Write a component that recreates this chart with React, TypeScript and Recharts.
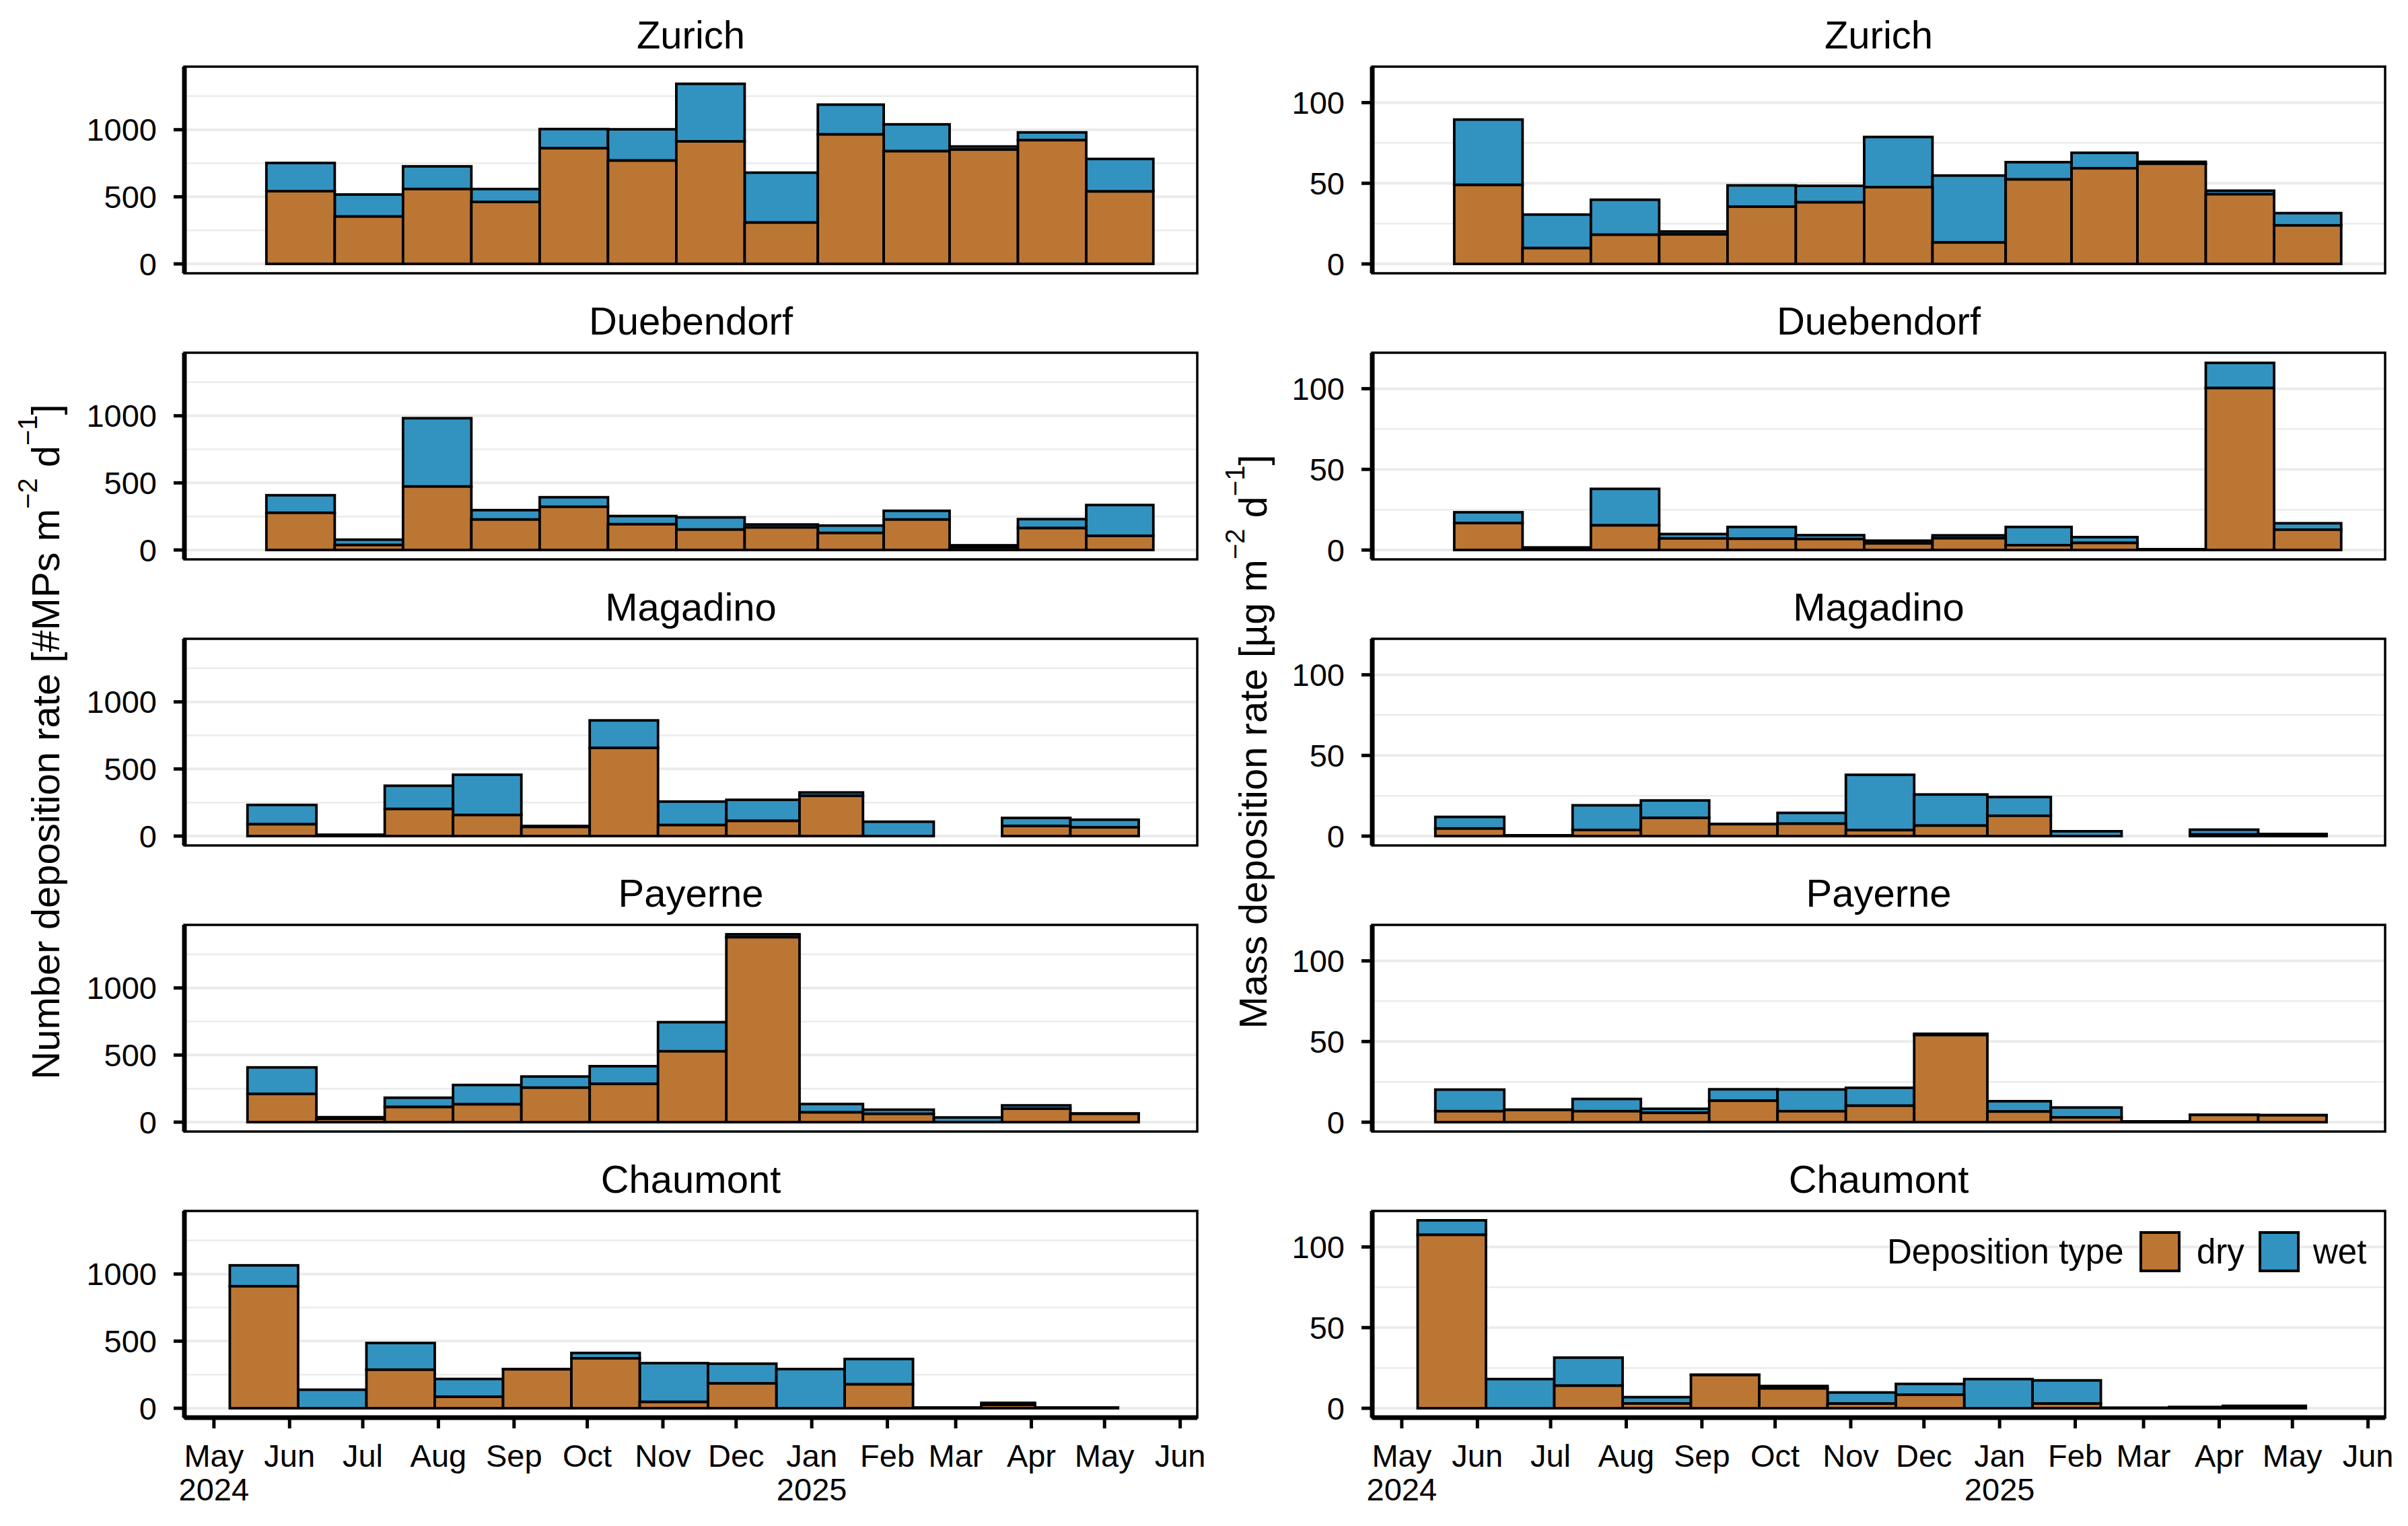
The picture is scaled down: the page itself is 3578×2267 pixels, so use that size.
import React from "react";
import { ComposedChart, XAxis, YAxis, CartesianGrid, ReferenceArea, Line } from "recharts";

const FONT = '"Liberation Sans", Arial, Helvetica, sans-serif';
const DRY_COLOR = "#BC7634";
const WET_COLOR = "#3393C0";
const GRID_COLOR = "#EBEBEB";

// ---------- data ----------
const sites = ["Zurich", "Duebendorf", "Magadino", "Payerne", "Chaumont"];

// sampling period boundaries (start of first .. end of last)
const periodsZurichDuebendorf = [
  "2024-05-22T12:00Z", "2024-06-19T12:00Z", "2024-07-17T12:00Z", "2024-08-14T12:00Z",
  "2024-09-11T12:00Z", "2024-10-09T12:00Z", "2024-11-06T12:00Z", "2024-12-04T12:00Z",
  "2025-01-03T12:00Z", "2025-01-30T12:00Z", "2025-02-26T12:00Z", "2025-03-26T12:00Z",
  "2025-04-23T12:00Z", "2025-05-21T00:00Z",
];
const periodsMagadinoPayerne = [
  "2024-05-14T18:00Z", "2024-06-12T00:00Z", "2024-07-10T00:00Z", "2024-08-07T00:00Z",
  "2024-09-04T00:00Z", "2024-10-02T00:00Z", "2024-10-30T00:00Z", "2024-11-27T00:00Z",
  "2024-12-27T00:00Z", "2025-01-22T00:00Z", "2025-02-20T00:00Z", "2025-03-20T00:00Z",
  "2025-04-17T00:00Z", "2025-05-15T00:00Z",
];
const periodsChaumont = [
  "2024-05-07T12:00Z", "2024-06-04T12:00Z", "2024-07-02T12:00Z", "2024-07-30T12:00Z",
  "2024-08-27T12:00Z", "2024-09-24T12:00Z", "2024-10-22T12:00Z", "2024-11-19T12:00Z",
  "2024-12-17T12:00Z", "2025-01-14T12:00Z", "2025-02-11T12:00Z", "2025-03-11T12:00Z",
  "2025-04-02T12:00Z", "2025-05-06T12:00Z",
];

// Number deposition rate [#MPs m-2 d-1]
const zurichNumberDry = [542, 353, 558, 462, 862, 770, 913, 308, 965, 840, 852, 922, 540];
const zurichNumberWet = [210, 164, 169, 96, 143, 233, 429, 372, 222, 200, 23, 58, 242];
const duebendorfNumberDry = [277, 37, 473, 227, 322, 192, 152, 168, 127, 227, 20, 163, 105];
const duebendorfNumberWet = [131, 40, 509, 70, 71, 61, 91, 22, 55, 65, 15, 67, 230];
const magadinoNumberDry = [88, 5, 202, 157, 68, 657, 82, 113, 300, 0, 0, 75, 65];
const magadinoNumberWet = [144, 5, 173, 300, 7, 205, 175, 157, 25, 107, 0, 60, 57];
const payerneNumberDry = [210, 25, 113, 133, 257, 285, 528, 1378, 73, 62, 0, 100, 62];
const payerneNumberWet = [198, 12, 69, 144, 83, 132, 217, 22, 62, 31, 35, 25, 3];
const chaumontNumberDry = [909, 0, 287, 85, 290, 372, 47, 185, 0, 178, 3, 25, 3];
const chaumontNumberWet = [156, 138, 199, 133, 2, 40, 289, 147, 292, 189, 2, 15, 2];

// Mass deposition rate [ug m-2 d-1]
const zurichMassDry = [49.0, 9.8, 18.1, 18.3, 35.5, 38.2, 47.6, 13.3, 52.4, 59.3, 62.1, 43.2, 23.9];
const zurichMassWet = [40.5, 20.8, 21.7, 1.8, 13.2, 10.2, 31.1, 41.5, 10.7, 9.6, 1.2, 2.2, 7.6];
const duebendorfMassDry = [16.7, 1.0, 15.3, 7.2, 7.0, 6.8, 4.1, 7.3, 3.0, 4.4, 0.3, 100.4, 12.6];
const duebendorfMassWet = [6.7, 0.6, 22.6, 2.7, 7.3, 2.4, 1.7, 1.8, 11.3, 3.6, 0.2, 15.6, 4.0];
const magadinoMassDry = [4.7, 0.3, 3.8, 11.3, 7.4, 7.7, 3.7, 6.5, 12.6, 0, 0, 1.0, 1.0];
const magadinoMassWet = [7.2, 0.2, 15.3, 10.8, 0.1, 6.7, 34.3, 19.3, 11.6, 3.0, 0, 3.0, 0.3];
const payerneMassDry = [6.8, 7.6, 6.8, 5.8, 13.3, 6.8, 10.2, 54.0, 6.6, 3.0, 0.3, 4.5, 4.3];
const payerneMassWet = [13.4, 0.2, 7.6, 2.5, 7.1, 13.5, 11.1, 0.8, 6.4, 6.1, 0.2, 0.1, 0.1];
const chaumontMassDry = [107.5, 0, 14.0, 3.0, 20.6, 12.3, 2.9, 8.4, 0, 2.9, 0.2, 0.5, 1.2];
const chaumontMassWet = [9.0, 18.1, 17.4, 3.9, 0.2, 1.5, 6.9, 6.7, 18.1, 14.4, 0.1, 0.3, 0.3];

// x-axis ticks
const monthTickDates = [
  "2024-05-01", "2024-06-01", "2024-07-01", "2024-08-01", "2024-09-01", "2024-10-01", "2024-11-01",
  "2024-12-01", "2025-01-01", "2025-02-01", "2025-03-01", "2025-04-01", "2025-05-01", "2025-06-01",
];
const monthTickLabels = ["May", "Jun", "Jul", "Aug", "Sep", "Oct", "Nov", "Dec", "Jan", "Feb", "Mar", "Apr", "May", "Jun"];
const yearTickLabels = ["2024", "", "", "", "", "", "", "", "2025", "", "", "", "", ""];

// y-axis ticks
const numberTicks = [0, 500, 1000];
const numberMinor = [250, 750, 1250];
const massTicks = [0, 50, 100];
const massMinor = [25, 75];

// ---------- helpers ----------
const ORIGIN = Date.parse("2024-05-01T00:00:00Z");
const toDay = (s: string) => (Date.parse(s) - ORIGIN) / 86400000;
const monthDays = monthTickDates.map((d) => toDay(d + "T00:00:00Z"));

const X_DOMAIN: [number, number] = [-12.1, 403.0];
const NUM_DOMAIN: [number, number] = [-70, 1470];
const MASS_DOMAIN: [number, number] = [-5.8, 122.3];

const PANEL_W = 1505;
const PANEL_H = 307;
const COL_X = [274, 2039];
const TOP0 = 99;
const ROW_STEP = 425;

const periodsBySite = [periodsZurichDuebendorf, periodsZurichDuebendorf, periodsMagadinoPayerne, periodsMagadinoPayerne, periodsChaumont];
const numberDry = [zurichNumberDry, duebendorfNumberDry, magadinoNumberDry, payerneNumberDry, chaumontNumberDry];
const numberWet = [zurichNumberWet, duebendorfNumberWet, magadinoNumberWet, payerneNumberWet, chaumontNumberWet];
const massDry = [zurichMassDry, duebendorfMassDry, magadinoMassDry, payerneMassDry, chaumontMassDry];
const massWet = [zurichMassWet, duebendorfMassWet, magadinoMassWet, payerneMassWet, chaumontMassWet];

const barShape = (fill: string) => (p: any) => (
  <rect
    x={p.x}
    y={p.y}
    width={p.width}
    height={Math.max(0, p.height || 0)}
    fill={fill}
    stroke="#000"
    strokeWidth={3.8}
  />
);

const MonthTick = (p: any) => {
  const { x, y, payload } = p;
  const idx = monthDays.findIndex((d) => Math.abs(d - payload.value) < 0.01);
  if (idx < 0) return <g />;
  return (
    <g>
      <text x={x} y={y + 47} textAnchor="middle" fontSize={47} fontFamily={FONT} fill="#000">
        {monthTickLabels[idx]}
      </text>
      {yearTickLabels[idx] ? (
        <text x={x} y={y + 97} textAnchor="middle" fontSize={47} fontFamily={FONT} fill="#000">
          {yearTickLabels[idx]}
        </text>
      ) : null}
    </g>
  );
};

type PanelProps = {
  x: number;
  y: number;
  periods: string[];
  dry: number[];
  wet: number[];
  domain: [number, number];
  majors: number[];
  minors: number[];
  showX: boolean;
};

function Panel({ x, y, periods, dry, wet, domain, majors, minors, showX }: PanelProps) {
  const rows = dry.map((d, i) => {
    const start = toDay(periods[i]);
    const end = toDay(periods[i + 1]);
    return { start, end, mid: (start + end) / 2, dry: d, wet: wet[i], total: d + wet[i] };
  });
  const YW = 260;
  const MT = 12;
  const MR = 14;
  const XH = 150;
  const w = YW + PANEL_W + MR;
  const h = MT + PANEL_H + (showX ? XH : MT);
  return (
    <div style={{ position: "absolute", left: x - YW, top: y - MT }}>
      <ComposedChart
        width={w}
        height={h}
        data={rows}
        margin={{ top: MT, right: MR, bottom: showX ? 0 : MT, left: 0 }}
      >
        <CartesianGrid vertical={false} horizontalValues={minors} stroke={GRID_COLOR} strokeWidth={2.5} />
        <CartesianGrid vertical={false} horizontalValues={majors} stroke={GRID_COLOR} strokeWidth={4} />
        <XAxis
          type="number"
          dataKey="mid"
          domain={X_DOMAIN}
          allowDataOverflow
          ticks={monthDays}
          interval={0}
          hide={!showX}
          height={showX ? XH : 0}
          tickSize={16}
          tickMargin={10}
          tick={(p: any) => <MonthTick {...p} />}
          axisLine={{ stroke: "#000", strokeWidth: 7 }}
          tickLine={{ stroke: "#000", strokeWidth: 5 }}
        />
        <YAxis
          type="number"
          domain={domain}
          allowDataOverflow
          ticks={majors}
          interval={0}
          width={YW}
          tickSize={16}
          tickMargin={25}
          tick={{ fontSize: 47, fill: "#000", fontFamily: FONT }}
          axisLine={{ stroke: "#000", strokeWidth: 7 }}
          tickLine={{ stroke: "#000", strokeWidth: 5 }}
        />
        {rows.map((r, i) => (
          <ReferenceArea
            key={`w${i}`}
            x1={r.start}
            x2={r.end}
            y1={r.dry}
            y2={r.total}
            ifOverflow="visible"
            shape={barShape(WET_COLOR)}
          />
        ))}
        {rows.map((r, i) => (
          <ReferenceArea
            key={`d${i}`}
            x1={r.start}
            x2={r.end}
            y1={0}
            y2={r.dry}
            ifOverflow="visible"
            shape={barShape(DRY_COLOR)}
          />
        ))}
        <Line
          type="linear"
          dataKey="total"
          stroke="none"
          dot={false}
          activeDot={false}
          isAnimationActive={false}
        />
        <ReferenceArea
          x1={X_DOMAIN[0]}
          x2={X_DOMAIN[1]}
          y1={domain[0]}
          y2={domain[1]}
          ifOverflow="visible"
          fill="none"
          fillOpacity={0}
          stroke="#000"
          strokeWidth={3.5}
        />
      </ComposedChart>
    </div>
  );
}

export default function App() {
  const colCenters = COL_X.map((cx) => cx + PANEL_W / 2);
  return (
    <div
      style={{
        position: "absolute",
        left: 0,
        top: 0,
        width: 3578,
        height: 2267,
        background: "#fff",
        overflow: "hidden",
        fontFamily: FONT,
      }}
    >
      <svg width={3578} height={2267} style={{ position: "absolute", left: 0, top: 0 }}>
        {sites.map((s, i) =>
          colCenters.map((cx, c) => (
            <text
              key={`${s}-${c}`}
              x={cx}
              y={72 + ROW_STEP * i}
              textAnchor="middle"
              fontSize={58}
              fontFamily={FONT}
              fill="#000"
            >
              {s}
            </text>
          ))
        )}
        <text transform="translate(88,1102) rotate(-90)" textAnchor="middle" fontSize={58} fontFamily={FONT} fill="#000">
          Number deposition rate [#MPs m
          <tspan dy={-33} fontSize={40}>−2</tspan>
          <tspan dy={33}> d</tspan>
          <tspan dy={-33} fontSize={40}>−1</tspan>
          <tspan dy={33}>]</tspan>
        </text>
        <text transform="translate(1882,1102) rotate(-90)" textAnchor="middle" fontSize={58} fontFamily={FONT} fill="#000">
          Mass deposition rate [µg m
          <tspan dy={-33} fontSize={40}>−2</tspan>
          <tspan dy={33}> d</tspan>
          <tspan dy={-33} fontSize={40}>−1</tspan>
          <tspan dy={33}>]</tspan>
        </text>
      </svg>
      {sites.map((s, i) => (
        <Panel
          key={`n-${s}`}
          x={COL_X[0]}
          y={TOP0 + ROW_STEP * i}
          periods={periodsBySite[i]}
          dry={numberDry[i]}
          wet={numberWet[i]}
          domain={NUM_DOMAIN}
          majors={numberTicks}
          minors={numberMinor}
          showX={i === sites.length - 1}
        />
      ))}
      {sites.map((s, i) => (
        <Panel
          key={`m-${s}`}
          x={COL_X[1]}
          y={TOP0 + ROW_STEP * i}
          periods={periodsBySite[i]}
          dry={massDry[i]}
          wet={massWet[i]}
          domain={MASS_DOMAIN}
          majors={massTicks}
          minors={massMinor}
          showX={i === sites.length - 1}
        />
      ))}
      <svg width={3578} height={2267} style={{ position: "absolute", left: 0, top: 0, pointerEvents: "none" }}>
        <text x={2804} y={1877} fontSize={51} fontFamily={FONT} fill="#000">
          Deposition type
        </text>
        <rect x={3181} y={1831} width={57} height={57} fill={DRY_COLOR} stroke="#000" strokeWidth={4} />
        <text x={3264} y={1877} fontSize={51} fontFamily={FONT} fill="#000">
          dry
        </text>
        <rect x={3358} y={1831} width={57} height={57} fill={WET_COLOR} stroke="#000" strokeWidth={4} />
        <text x={3437} y={1877} fontSize={51} fontFamily={FONT} fill="#000">
          wet
        </text>
      </svg>
    </div>
  );
}
